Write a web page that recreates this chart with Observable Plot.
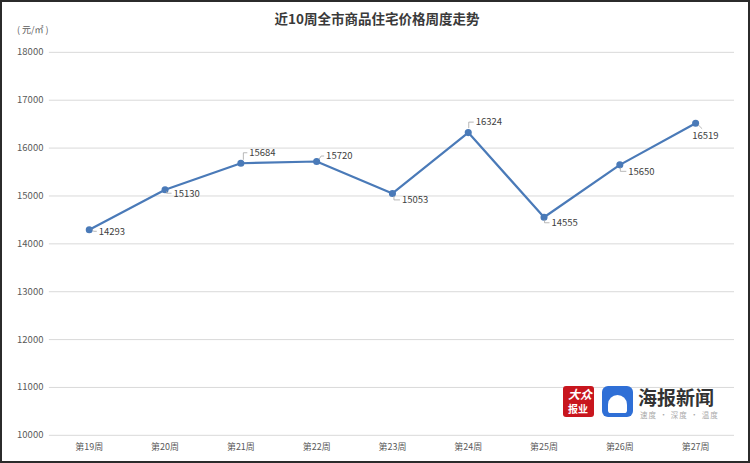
<!DOCTYPE html>
<html>
<head>
<meta charset="utf-8">
<script src="https://cdn.jsdelivr.net/npm/d3@7"></script>
<script src="https://cdn.jsdelivr.net/npm/@observablehq/plot@0.6"></script>
<style>
  html, body { margin: 0; padding: 0; background: #fff; }
  #frame { position: relative; width: 750px; height: 463px; box-sizing: border-box; border: 2px solid #2b2b2b; overflow: hidden; font-family: "Noto Sans CJK SC", "Noto Sans", sans-serif; }
  #chart { position: absolute; left: -2px; top: -2px; }
  #title { position: absolute; left: 0; width: 750px; top: 6px; text-align: center; font-size: 13.5px; font-weight: bold; color: #3a3a3a; }
  #unit { position: absolute; left: 15px; top: 21px; font-size: 9px; color: #595959; }
  .logo { position: absolute; white-space: nowrap; }
</style>
</head>
<body>
<div id="frame">
  <div id="chart"></div>
  <div id="title">近10周全市商品住宅价格周度走势</div>
  <div id="unit">( 元/㎡ )</div>
  <div class="logo" style="left:561px;top:384px;width:31px;height:31px;background:#c8161e;border-radius:3px;"></div>
  <div class="logo" style="left:566px;top:385px;font-size:12px;line-height:14px;height:14px;font-weight:bold;font-style:italic;color:#fff;">大众</div>
  <div class="logo" style="left:566px;top:401px;font-size:10px;line-height:11px;height:11px;font-weight:bold;color:#fff;">报业</div>
  <div class="logo" style="left:600px;top:384px;width:31px;height:31px;background:#2f6fd6;border-radius:6px;">
    <div style="position:absolute;left:6px;top:9px;width:19px;height:18px;background:#fff;border-radius:10px 10px 3px 3px;"></div>
  </div>
  <div class="logo" style="left:636px;top:385px;font-size:19px;font-weight:bold;color:#333;line-height:20px;height:20px;">海报新闻</div>
  <div class="logo" style="left:638px;top:408px;font-size:7.5px;color:#aaa;letter-spacing:1px;line-height:9px;height:9px;">速度 · 深度 · 温度</div>
</div>
<script>
// ---- data ----
const weeks = ["第19周", "第20周", "第21周", "第22周", "第23周", "第24周", "第25周", "第26周", "第27周"];
const prices = [14293, 15130, 15684, 15720, 15053, 16324, 14555, 15650, 16519];
const yTicks = [10000, 11000, 12000, 13000, 14000, 15000, 16000, 17000, 18000];

// ---- label placement (pixel offsets relative to each point; styling only) ----
const labelOffsets = [
  {tx: 10, ty: 2,   leader: [[3, 0], [5, 2], [8, 2]]},
  {tx: 9,  ty: 4,   leader: [[2, 2], [2, 4], [7, 4]]},
  {tx: 9,  ty: -10, leader: [[3, -3], [3, -10], [7, -10]]},
  {tx: 10, ty: -5,  leader: [[3, -2], [5, -5], [8, -5]]},
  {tx: 10, ty: 7,   leader: [[2, 3], [2, 7], [8, 7]]},
  {tx: 8,  ty: -10, leader: [[1, -4], [1, -10], [6, -10]]},
  {tx: 8,  ty: 6,   leader: [[1, 3], [1, 6], [6, 6]]},
  {tx: 9,  ty: 7,   leader: [[1, 3], [1, 7], [7, 7]]},
  {tx: -3, ty: 13,  leader: [[3, 2], [7, 6]]}
];

const rows = weeks.map((w, i) => ({week: w, price: prices[i], off: labelOffsets[i]}));
const lineColor = "#4a7ab8";
const font = "Noto Sans CJK SC, Noto Sans, sans-serif";

function labelMark(index, scales) {
  const g = d3.create("svg:g").attr("text-anchor", "start");
  for (const d of rows) {
    const px = scales.x(d.week), py = scales.y(d.price);
    const pts = d.off.leader.map(([a, b]) => [px + a, py + b]);
    g.append("path")
      .attr("d", d3.line()(pts))
      .attr("fill", "none")
      .attr("stroke", "#a6a6a6")
      .attr("stroke-width", 0.8);
    g.append("text")
      .attr("x", px + d.off.tx)
      .attr("y", py + d.off.ty)
      .attr("dy", "0.35em")
      .attr("text-anchor", "start")
      .attr("font-size", 9.5)
      .attr("font-family", font)
      .attr("fill", "#404040")
      .text(d.price);
  }
  return g.node();
}

const chart = Plot.plot({
  width: 750,
  height: 463,
  marginTop: 52,
  marginBottom: 27,
  marginLeft: 49,
  marginRight: 14,
  style: {fontFamily: font, fontSize: "9px", color: "#595959", background: "transparent"},
  x: {type: "point", domain: weeks, padding: 0.5, label: null},
  y: {domain: [10000, 18000], label: null},
  marks: [
    Plot.gridY(yTicks, {stroke: "#d9d9d9", strokeOpacity: 1, strokeWidth: 1}),
    Plot.axisY(yTicks, {tickSize: 0, tickPadding: 6, fontSize: 9.5, fill: "#595959", label: null, tickFormat: d => String(d)}),
    Plot.axisX({tickSize: 0, tickPadding: 8, fontSize: 9, fill: "#595959", label: null}),
    Plot.line(rows, {x: "week", y: "price", stroke: lineColor, strokeWidth: 2.2}),
    Plot.dot(rows, {x: "week", y: "price", r: 2.8, fill: lineColor, stroke: lineColor}),
    labelMark
  ]
});
document.getElementById("chart").appendChild(chart);
</script>
</body>
</html>
